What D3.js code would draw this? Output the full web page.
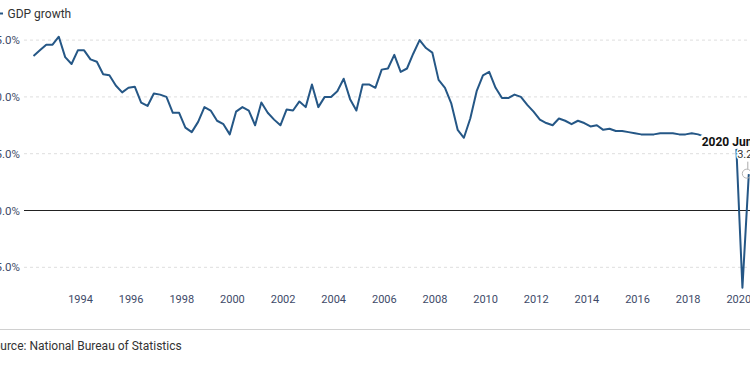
<!DOCTYPE html>
<html>
<head>
<meta charset="utf-8">
<script src="https://cdn.jsdelivr.net/npm/d3@7"></script>
<style>
  html, body { margin: 0; padding: 0; background: #fff; }
  svg { display: block; font-family: Roboto, "Noto Sans", sans-serif; }
</style>
</head>
<body>
<svg id="chart" width="750" height="367"></svg>
<script>
// ---- data ----
const years = d3.range(1992, 2021);
const quarterMonths = [3, 6, 9, 12];
const gdpGrowth = [
  13.6, 14.1, 14.6, 14.6,   // 1992
  15.3, 13.5, 12.9, 14.1,   // 1993
  14.1, 13.3, 13.1, 12.0,   // 1994
  11.9, 11.0, 10.4, 10.8,   // 1995
  10.9, 9.5, 9.2, 10.3,     // 1996
  10.2, 10.0, 8.6, 8.6,     // 1997
  7.3, 6.9, 7.8, 9.1,       // 1998
  8.8, 7.9, 7.6, 6.7,       // 1999
  8.7, 9.1, 8.8, 7.5,       // 2000
  9.5, 8.6, 8.0, 7.5,       // 2001
  8.9, 8.8, 9.6, 9.1,       // 2002
  11.1, 9.1, 10.0, 10.0,    // 2003
  10.5, 11.6, 9.8, 8.8,     // 2004
  11.1, 11.1, 10.8, 12.4,   // 2005
  12.5, 13.7, 12.2, 12.5,   // 2006
  13.8, 15.0, 14.3, 13.9,   // 2007
  11.5, 10.8, 9.4, 7.1,     // 2008
  6.4, 8.1, 10.5, 11.9,     // 2009
  12.2, 10.8, 9.9, 9.9,     // 2010
  10.2, 10.0, 9.3, 8.7,     // 2011
  8.0, 7.7, 7.5, 8.1,       // 2012
  7.9, 7.6, 7.9, 7.7,       // 2013
  7.4, 7.5, 7.1, 7.2,       // 2014
  7.0, 7.0, 6.9, 6.8,       // 2015
  6.7, 6.7, 6.7, 6.8,       // 2016
  6.8, 6.8, 6.7, 6.7,       // 2017
  6.8, 6.7, 6.5, 6.4,       // 2018
  6.4, 6.2, 6.0, 6.0,       // 2019
  -6.8, 3.2                 // 2020
];
const xTickYears = [1994, 1996, 1998, 2000, 2002, 2004, 2006, 2008, 2010, 2012, 2014, 2016, 2018, 2020];
const yTickValues = [-5, 0, 5, 10, 15];
const seriesName = "GDP growth";
const sourceText = "Source: National Bureau of Statistics";
const annotationTitle = "2020 Jun";

// quarter dates (first day of the quarter-end month)
const dates = [];
years.forEach(y => quarterMonths.forEach(m => dates.push(new Date(y, m - 1, 1))));
const data = gdpGrowth.map((v, i) => ({ date: dates[i], value: v }));
const last = data[data.length - 1];

// ---- layout ----
const svg = d3.select("#chart");
const lineColor = "#255786";
const labelColor = "#3e4a68";

const x = d3.scaleTime()
  .domain([data[0].date, last.date])
  .range([33.5, 748.8]);
const y = d3.scaleLinear()
  .domain([0, 15])
  .range([210.5, 40.1]);

const gridLeft = 24, gridRight = 750;

// gridlines
const grid = svg.append("g");
grid.selectAll("line")
  .data(yTickValues.filter(v => v !== 0))
  .join("line")
  .attr("x1", gridLeft).attr("x2", gridRight)
  .attr("y1", d => y(d)).attr("y2", d => y(d))
  .attr("stroke", "#dedede")
  .attr("stroke-width", 1)
  .attr("stroke-dasharray", "3,3");

// y axis labels
const yAxis = d3.axisLeft(y)
  .tickValues(yTickValues)
  .tickSize(0)
  .tickPadding(0)
  .tickFormat(d => d3.format(".1f")(d) + "%");
const gy = svg.append("g").attr("transform", "translate(20,0)").call(yAxis);
gy.select(".domain").remove();
gy.selectAll("text")
  .attr("fill", labelColor)
  .attr("font-size", "11.5px")
  .attr("font-family", "Roboto, sans-serif");

// zero line
svg.append("line")
  .attr("x1", gridLeft).attr("x2", gridRight)
  .attr("y1", y(0)).attr("y2", y(0))
  .attr("stroke", "#222").attr("stroke-width", 1);

// x axis labels
const xAxis = d3.axisBottom(x)
  .tickValues(xTickYears.map(yr => new Date(yr, 0, 1)))
  .tickSize(0)
  .tickPadding(0)
  .tickFormat(d3.timeFormat("%Y"));
const gx = svg.append("g").attr("transform", "translate(0,295)").call(xAxis);
gx.select(".domain").remove();
gx.selectAll("text")
  .attr("fill", labelColor)
  .attr("font-size", "11px")
  .attr("font-family", "Roboto, sans-serif");

// line
const line = d3.line()
  .x(d => x(d.date))
  .y(d => y(d.value));
svg.append("path")
  .datum(data)
  .attr("fill", "none")
  .attr("stroke", lineColor)
  .attr("stroke-width", 2)
  .attr("stroke-linejoin", "round")
  .attr("d", line);

// annotation
const ax = x(last.date), ay = y(last.value);
svg.append("line")
  .attr("x1", ax - 1).attr("x2", ax - 1)
  .attr("y1", ay - 12.5).attr("y2", ay - 5)
  .attr("stroke", "#aaa").attr("stroke-width", 1);
svg.append("circle")
  .attr("cx", ax - 2).attr("cy", ay - 0.5)
  .attr("r", 4.5)
  .attr("fill", "none")
  .attr("stroke", "#b5b5b5")
  .attr("stroke-width", 1);
svg.append("text")
  .attr("x", ax).attr("y", ay - 16)
  .attr("text-anchor", "middle")
  .attr("font-size", "11px")
  .attr("fill", "#333")
  .attr("stroke", "#fff").attr("stroke-width", 3)
  .attr("paint-order", "stroke")
  .text(d3.format(".1f")(last.value) + "%");
svg.append("text")
  .attr("x", 701.7).attr("y", 146)
  .attr("font-size", "12px")
  .attr("font-weight", "bold")
  .attr("fill", "#111")
  .attr("stroke", "#fff").attr("stroke-width", 6)
  .attr("stroke-linejoin", "round")
  .attr("paint-order", "stroke")
  .text(annotationTitle);

// legend
svg.append("line")
  .attr("x1", -8).attr("x2", 3)
  .attr("y1", 13.5).attr("y2", 13.5)
  .attr("stroke", lineColor).attr("stroke-width", 2);
svg.append("text")
  .attr("x", 7.5).attr("y", 17.8)
  .attr("font-size", "12px")
  .attr("fill", "#333")
  .text(seriesName);

// footer
svg.append("line")
  .attr("x1", 0).attr("x2", 750)
  .attr("y1", 329.5).attr("y2", 329.5)
  .attr("stroke", "#d0d0d0").attr("stroke-width", 1);
svg.append("text")
  .attr("x", -13.7).attr("y", 350)
  .attr("font-size", "12px")
  .attr("fill", "#333")
  .text(sourceText);
</script>
</body>
</html>
